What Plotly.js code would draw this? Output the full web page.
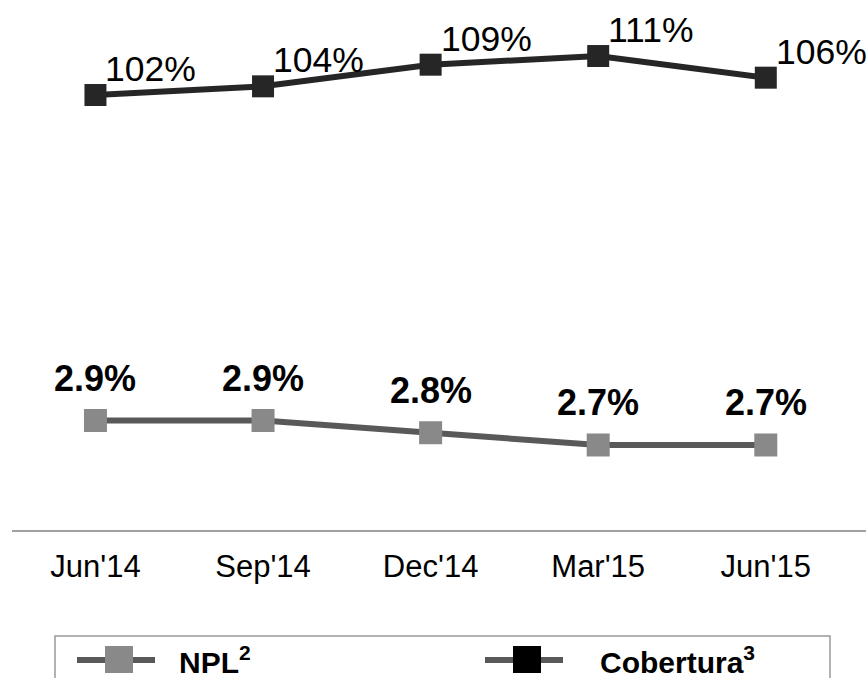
<!DOCTYPE html>
<html>
<head>
<meta charset="utf-8">
<script src="https://cdn.plot.ly/plotly-3.0.1.min.js"></script>
<style>
  html, body { margin: 0; padding: 0; background: #ffffff; }
  #chart { width: 866px; height: 678px; }
</style>
</head>
<body>
<div id="chart"></div>
<script>
// ---- Data ----
const categories = ["Jun'14", "Sep'14", "Dec'14", "Mar'15", "Jun'15"];
const nplValues = [2.9, 2.9, 2.8, 2.7, 2.7];
const coberturaValues = [102, 104, 109, 111, 106];
const nplLabels = ["2.9%", "2.9%", "2.8%", "2.7%", "2.7%"];
const coberturaLabels = ["102%", "104%", "109%", "111%", "106%"];
const seriesNames = ["NPL<sup>2</sup>", "Cobertura<sup>3</sup>"];

// ---- Layout helpers ----
const W = 866, H = 678;
const M = { l: 12, r: 0, t: 0, b: 148 };
const PW = W - M.l - M.r, PH = H - M.t - M.b;
const px = p => (p - M.l) / PW;          // pixel x -> paper x
const py = p => (PH + M.t - p) / PH;     // pixel y -> paper y
const FONT = "Liberation Sans, Arial, sans-serif";

const traces = [
  {
    name: seriesNames[0],
    x: categories,
    y: nplValues,
    yaxis: "y",
    type: "scatter",
    mode: "lines+markers",
    line: { color: "#595959", width: 6 },
    marker: { symbol: "square", size: 23, color: "#898989", line: { width: 0 } },
    cliponaxis: false,
    hoverinfo: "skip"
  },
  {
    name: seriesNames[1],
    x: categories,
    y: coberturaValues,
    yaxis: "y2",
    type: "scatter",
    mode: "lines+markers",
    line: { color: "#262626", width: 6 },
    marker: { symbol: "square", size: 22, color: "#262626", line: { width: 0 } },
    cliponaxis: false,
    hoverinfo: "skip"
  }
];

const annotations = [];
categories.forEach((c, i) => {
  annotations.push({
    x: c, y: nplValues[i], xref: "x", yref: "y",
    text: "<b>" + nplLabels[i] + "</b>",
    showarrow: false, yshift: 42,
    font: { family: FONT, size: 36, color: "#000000" }
  });
  annotations.push({
    x: c, y: coberturaValues[i], xref: "x", yref: "y2",
    text: coberturaLabels[i],
    showarrow: false, xanchor: "left", xshift: 8, yshift: 26,
    font: { family: FONT, size: 35.5, color: "#000000" }
  });
});

// ---- Custom legend (drawn in paper space) ----
const legendItems = [
  { cx: 119, lineColor: "#595959", fill: "#898989", textX: 177 },
  { cx: 527, lineColor: "#595959", fill: "#000000", textX: 598 }
];
const legendY = 660;
const shapes = [
  {
    type: "rect", xref: "paper", yref: "paper",
    x0: px(55), x1: px(830), y0: py(636), y1: py(720),
    line: { color: "#999999", width: 1.5 }, fillcolor: "rgba(0,0,0,0)"
  }
];
legendItems.forEach((it, k) => {
  shapes.push({
    type: "line", xref: "paper", yref: "paper",
    x0: px(it.cx - 42), x1: px(it.cx + 36), y0: py(legendY), y1: py(legendY),
    line: { color: it.lineColor, width: 6 }
  });
  shapes.push({
    type: "rect", xref: "paper", yref: "paper",
    x0: px(it.cx - 14), x1: px(it.cx + 14), y0: py(legendY + 13), y1: py(legendY - 14),
    line: { width: 0 }, fillcolor: it.fill
  });
  annotations.push({
    xref: "paper", yref: "paper", x: px(it.textX), y: py(legendY),
    xanchor: "left", yanchor: "middle", showarrow: false,
    text: "<b>" + seriesNames[k] + "</b>",
    font: { family: FONT, size: 30, color: "#000000" }
  });
});

const layout = {
  width: W, height: H,
  margin: M,
  paper_bgcolor: "#ffffff",
  plot_bgcolor: "#ffffff",
  showlegend: false,
  font: { family: FONT, color: "#000000" },
  xaxis: {
    type: "category",
    range: [-0.498, 4.598],
    showline: true, linecolor: "#a0a0a0", linewidth: 2,
    showgrid: false, zeroline: false,
    ticks: "", ticklabelstandoff: 8,
    tickfont: { family: FONT, size: 31, color: "#000000" },
    fixedrange: true
  },
  yaxis: {
    range: [2.006, 6.333],
    visible: false, showgrid: false, zeroline: false, fixedrange: true
  },
  yaxis2: {
    range: [1.54, 123.94],
    overlaying: "y",
    visible: false, showgrid: false, zeroline: false, fixedrange: true
  },
  annotations: annotations,
  shapes: shapes
};

Plotly.newPlot("chart", traces, layout, { displayModeBar: false, staticPlot: true });
</script>
</body>
</html>
